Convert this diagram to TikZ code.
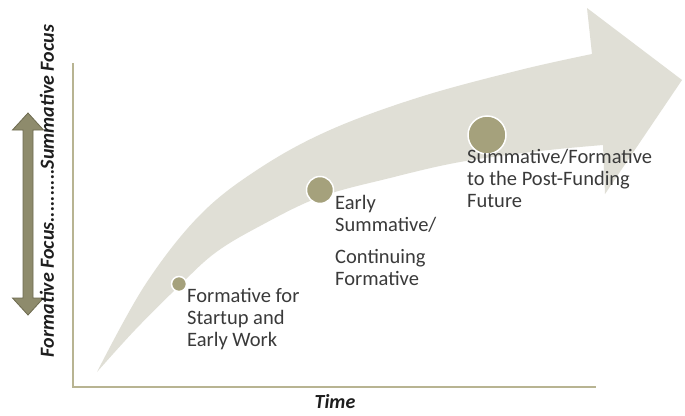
\documentclass[tikz,border=0pt]{standalone}
\usepackage{fontspec}
\setmainfont{Carlito}
\definecolor{bandcol}{RGB}{224,223,214}
\definecolor{dotcol}{RGB}{165,161,124}
\definecolor{axiscol}{RGB}{184,180,146}
\definecolor{arrfill}{RGB}{142,139,108}
\definecolor{arrline}{RGB}{110,107,80}
\definecolor{txtcol}{RGB}{58,58,58}
\definecolor{axtxt}{RGB}{30,30,30}
\tikzset{
  stage/.style={circle, fill=dotcol, draw=white, line width=1.5pt, inner sep=0pt},
  lbl/.style={anchor=base west, inner sep=0pt, align=left, text=txtcol,
    font=\fontsize{20.5}{22}\selectfont},
  axlbl/.style={inner sep=0pt, text=axtxt, font=\fontsize{20}{22}\selectfont\bfseries\itshape},
  axisline/.style={draw=axiscol, line width=2pt},
  dblarrow/.style={fill=arrfill, draw=arrline, line width=0.8pt, line join=miter}
}
\begin{document}
\begin{tikzpicture}[x=1pt,y=-1pt]
\fill[white] (0,0) rectangle (685,415);
\useasboundingbox (0,0) rectangle (685,415);
% axes
\coordinate (ytop) at (73,63);
\coordinate (orig) at (73,387);
\coordinate (xend) at (596,387);
\draw[axisline] (ytop) -- (orig) -- (xend);
% curved band arrow
\fill[bandcol] (97,372)
  -- plot[smooth, tension=0.6] coordinates {(97,372) (145,285) (200,215) (260,168) (330,130) (420,97) (520,70) (592,54)}
  -- (587,8) -- (682,80) -- (605,194) -- (603,145)
  -- plot[smooth, tension=0.6] coordinates {(603,145) (540,151) (460,162) (390,178) (320,197) (260,226) (215,253) (178,287) (135,330) (97,372)}
  -- cycle;
% stage dots
\node[stage, minimum size=15pt] (s1) at (179,284) {};
\node[stage, minimum size=27pt] (s2) at (320,190) {};
\node[stage, minimum size=38pt] (s3) at (487,135) {};
% labels (anchor = baseline of last line)
\node[lbl] (l1) at (187,346) {Formative for\\Startup and\\Early Work};
\node[lbl] (l2) at (335,285) {Early\\Summative/\\[10pt]Continuing\\Formative};
\node[lbl] (l3) at (467,207) {Summative/Formative\\to the Post-Funding\\Future};
% vertical double arrow
\fill[dblarrow] (28,113) -- (43.5,130) -- (33,130) -- (33,298) -- (43.5,298) -- (28,315)
  -- (12.5,298) -- (23,298) -- (23,130) -- (12.5,130) -- cycle;
% axis labels
\node[axlbl, rotate=90] (ylab) at (47,191) {Formative Focus..........Summative Focus};
\node[axlbl] (xlab) at (335,402) {Time};
\end{tikzpicture}
\end{document}
